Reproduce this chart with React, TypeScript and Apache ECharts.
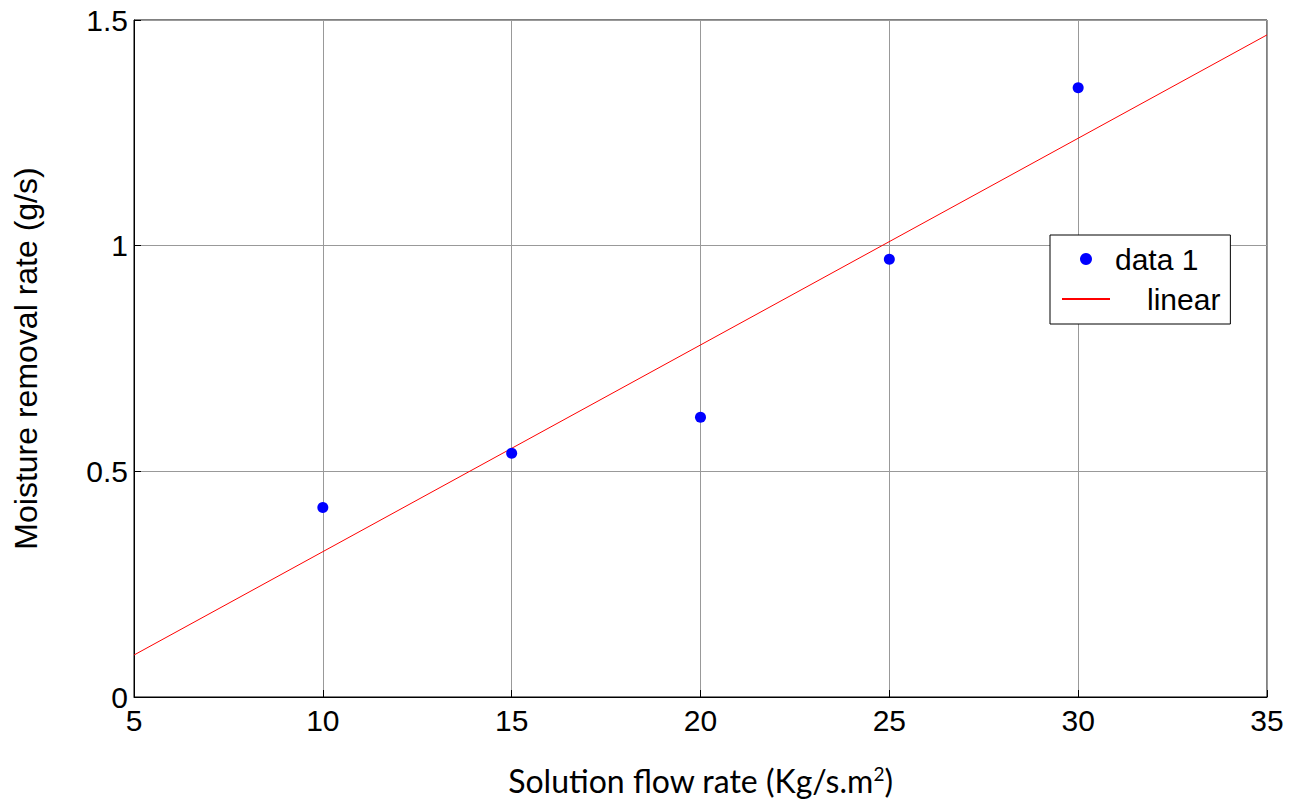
import React, { useEffect, useRef } from "react";
import * as echarts from "echarts";

const flowRate = [10, 15, 20, 25, 30];
const moistureRemoval = [0.42, 0.54, 0.62, 0.97, 1.35];
const linearX = [5, 35];
const linearY = [0.093, 1.467];
const xTicks = { min: 5, max: 35, interval: 5 };
const yTicks = { min: 0, max: 1.5, interval: 0.5 };

export default function App() {
  const ref = useRef<HTMLDivElement>(null);
  useEffect(() => {
    if (!ref.current) return;
    const chart = echarts.init(ref.current, null, { renderer: "svg" });
    const tickFont = "'Liberation Sans', Arial, sans-serif";
    chart.setOption({
      animation: false,
      backgroundColor: "#ffffff",
      grid: {
        left: 134,
        top: 20,
        width: 1133,
        height: 677,
        containLabel: false,
        outerBoundsMode: "none",
        show: true,
        borderColor: "#000000",
        borderWidth: 1,
        backgroundColor: "transparent",
      },
      legend: {
        orient: "vertical",
        left: 1050,
        top: 235,
        padding: [9, 10, 10, 11],
        itemGap: 10,
        itemWidth: 48,
        itemHeight: 12,
        borderColor: "#000000",
        borderWidth: 1,
        backgroundColor: "#ffffff",
        data: [
          { name: "data 1", icon: "circle" },
          { name: "linear", itemStyle: { opacity: 0 } },
        ],
        formatter: (name: string) =>
          name === "linear" ? "{l|" + name + "}" : "{d|" + name + "}",
        textStyle: {
          fontFamily: tickFont,
          fontSize: 30,
          color: "#000000",
          rich: {
            d: { fontFamily: tickFont, fontSize: 30, lineHeight: 32, color: "#000" },
            l: {
              fontFamily: tickFont,
              fontSize: 30,
              lineHeight: 32,
              color: "#000",
              padding: [0, 0, 0, 32],
            },
          },
        },
      },
      xAxis: {
        type: "value",
        min: xTicks.min,
        max: xTicks.max,
        interval: xTicks.interval,
        name: "Solution flow rate (Kg/s.m{sup|2})",
        nameLocation: "middle",
        nameGap: 67,
        nameTextStyle: {
          fontFamily: "Lato, 'Open Sans', sans-serif",
          fontSize: 32,
          color: "#000000",
          rich: {
            sup: {
              fontFamily: "Lato, 'Open Sans', sans-serif",
              fontSize: 19,
              verticalAlign: "top",
              padding: [0, 0, 14, 0],
              color: "#000",
            },
          },
        },
        axisLine: { show: true, onZero: false, lineStyle: { color: "#000", width: 1 } },
        axisTick: { show: true, inside: true, length: 7, lineStyle: { color: "#000" } },
        axisLabel: {
          fontFamily: tickFont,
          fontSize: 30,
          color: "#000000",
          margin: 8,
        },
        splitLine: { show: true, lineStyle: { color: "#999999", width: 1 } },
      },
      yAxis: {
        type: "value",
        min: yTicks.min,
        max: yTicks.max,
        interval: yTicks.interval,
        name: "Moisture removal rate (g/s)",
        nameLocation: "middle",
        nameGap: 92,
        nameTextStyle: {
          fontFamily: tickFont,
          fontSize: 32,
          color: "#000000",
        },
        axisLine: { show: true, lineStyle: { color: "#000", width: 1 } },
        axisTick: { show: true, inside: true, length: 7, lineStyle: { color: "#000" } },
        axisLabel: {
          fontFamily: tickFont,
          fontSize: 30,
          color: "#000000",
          margin: 6,
        },
        splitLine: { show: true, lineStyle: { color: "#999999", width: 1 } },
      },
      series: [
        {
          name: "data 1",
          type: "scatter",
          data: flowRate.map((x, i) => [x, moistureRemoval[i]]),
          symbol: "circle",
          symbolSize: 11,
          itemStyle: { color: "#0000ff", opacity: 1 },
          z: 3,
        },
        {
          name: "linear",
          type: "line",
          data: linearX.map((x, i) => [x, linearY[i]]),
          showSymbol: false,
          symbol: "none",
          lineStyle: { color: "#ff0000", width: 1 },
          itemStyle: { color: "#ff0000" },
          z: 2,
        },
      ],
    });
    return () => chart.dispose();
  }, []);
  return (
    <div
      ref={ref}
      style={{ position: "fixed", left: 0, top: 0, width: 1297, height: 801 }}
    />
  );
}
